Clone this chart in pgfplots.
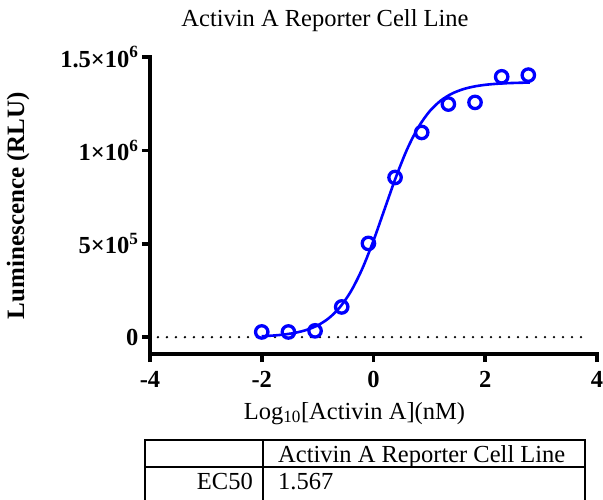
\documentclass[border=0pt]{standalone}
\usepackage{pgfplots}
\pgfplotsset{compat=1.18}
\usepackage{fontspec}
\setmainfont{Liberation Serif}
\definecolor{pblue}{RGB}{0,0,255}
\newcommand{\bigf}{\fontsize{24.5}{29}\selectfont}
\begin{document}
\begin{tikzpicture}[x=1pt,y=1pt]
\useasboundingbox (0,0) rectangle (603,499);
\begin{axis}[
  at={(150pt,145pt)}, anchor=south west,
  scale only axis, width=447pt, height=297pt,
  xmin=-4, xmax=4, ymin=-90000, ymax=1500000,
  axis lines=left,
  axis line style={-, line width=3.8pt, line cap=rect},
  xtick={-4,-2,0,2,4}, xticklabels={-4,-2,0,2,4},
  ytick={0,500000,1000000,1500000},
  yticklabels={0,5×10\textsuperscript{5},1×10\textsuperscript{6},1.5×10\textsuperscript{6}},
  scaled y ticks=false,
  tick align=outside, major tick length=8pt,
  tick style={line width=3.6pt, black},
  ticklabel style={font=\bigf\bfseries},
  xticklabel style={yshift=-6pt},
  title={Activin A Reporter Cell Line},
  title style={at={(axis description cs:0.3915,1.084)}, anchor=base, font=\bigf},
  xlabel={Log\textsubscript{10}[Activin A](nM)},
  xlabel style={at={(axis description cs:0.4575,-0.219)}, anchor=base, font=\bigf},
  ylabel={Luminescence (RLU)},
  ylabel style={at={(axis description cs:-0.295,0.5)}, anchor=center, font=\fontsize{25}{30}\selectfont\bfseries},
  clip=false,
]
\addplot[black, line width=2.6pt, line cap=round, dash pattern=on 0pt off 9pt] coordinates {(-3.857,0) (3.84,0)};
\addplot[pblue, line width=2.6pt, smooth] coordinates {
(-2.0,5234) (-1.8,8667) (-1.6,14324) (-1.4,23620) (-1.2,38760) (-1.0,63100)
(-0.8,101640) (-0.6,160780) (-0.4,247600) (-0.2,367000) (0.0,517300)
(0.2,686800) (0.4,855700) (0.6,1004900) (0.8,1122600) (1.0,1207800)
(1.2,1265700) (1.4,1303400) (1.6,1327200) (1.8,1342000) (2.0,1351000)
(2.2,1356500) (2.4,1359900) (2.6,1361900) (2.8,1363100)};
\addplot[only marks, mark=o, pblue, mark size=6.2pt, mark options={line width=3.3pt}] coordinates {
(-2.000,28000) (-1.523,28000) (-1.046,34000) (-0.569,162000) (-0.091,502000)
(0.386,855000) (0.863,1096000) (1.340,1248000) (1.817,1257000) (2.294,1394000) (2.771,1403000)};
\end{axis}
\draw[line width=1.6pt] (145,-2) -- (145,59) -- (585,59) -- (585,-2);
\draw[line width=1.6pt] (145,32) -- (585,32);
\draw[line width=1.6pt] (263,59) -- (263,-2);
\node[anchor=base west, inner sep=0pt, font=\bigf] at (278,36.3) {Activin A Reporter Cell Line};
\node[anchor=base east, inner sep=0pt, font=\bigf] at (253,10) {EC50};
\node[anchor=base west, inner sep=0pt, font=\bigf] at (278,10) {1.567};
\end{tikzpicture}
\end{document}
